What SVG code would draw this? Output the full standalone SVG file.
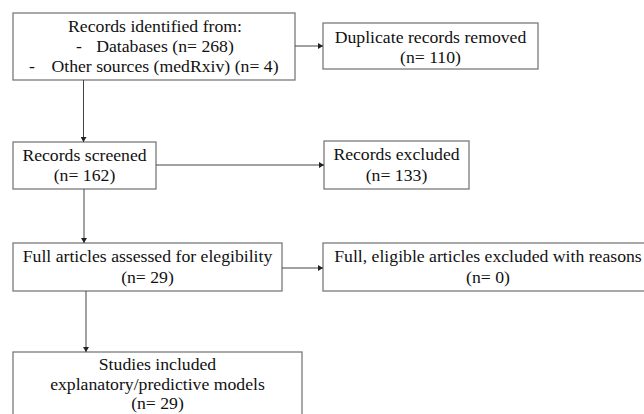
<svg xmlns="http://www.w3.org/2000/svg" width="644" height="414" viewBox="0 0 644 414">
<defs>
<marker id="ah" markerWidth="6" markerHeight="6" refX="5" refY="3" orient="auto" markerUnits="userSpaceOnUse">
<path d="M0,0 L5,3 L0,6 Z" fill="#222"/>
</marker>
<style>
.box{fill:#fff;stroke:#7a7a7a;stroke-width:1.3}
.t{font-family:"Liberation Serif","Times New Roman",serif;font-size:17.7px;fill:#111;text-anchor:middle}
.c{stroke:#444;stroke-width:1;fill:none;marker-end:url(#ah)}
</style>
</defs>
<rect width="644" height="414" fill="#fff"/>
<g id="identified">
<rect class="box" x="13" y="13" width="282" height="67"/>
<text class="t" x="155" y="32">Records identified from:</text>
<text class="t" x="79" y="52">-</text>
<text class="t" x="165" y="52">Databases (n= 268)</text>
<text class="t" x="32" y="72">-</text>
<text class="t" x="165" y="72">Other sources (medRxiv) (n= 4)</text>
</g>
<g id="duplicates">
<rect class="box" x="323" y="23" width="215" height="46"/>
<text class="t" x="430.5" y="43">Duplicate records removed</text>
<text class="t" x="430.5" y="63">(n= 110)</text>
</g>
<g id="screened">
<rect class="box" x="13" y="142" width="143" height="47"/>
<text class="t" x="84.5" y="161">Records screened</text>
<text class="t" x="84.5" y="181">(n= 162)</text>
</g>
<g id="excluded">
<rect class="box" x="324" y="141" width="145" height="48"/>
<text class="t" x="396.5" y="160">Records excluded</text>
<text class="t" x="396.5" y="181">(n= 133)</text>
</g>
<g id="fulltext">
<rect class="box" x="13" y="243" width="269" height="48"/>
<text class="t" x="147.5" y="262">Full articles assessed for elegibility</text>
<text class="t" x="147.5" y="283">(n= 29)</text>
</g>
<g id="fullexcluded">
<rect class="box" x="323" y="243" width="330" height="48"/>
<text class="t" x="488" y="262">Full, eligible articles excluded with reasons</text>
<text class="t" x="488" y="283">(n= 0)</text>
</g>
<g id="included">
<rect class="box" x="13" y="352" width="289" height="80"/>
<text class="t" x="157.5" y="370">Studies included</text>
<text class="t" x="157.5" y="390">explanatory/predictive models</text>
<text class="t" x="157.5" y="409">(n= 29)</text>
</g>
<g id="connectors">
<path class="c" d="M295,46 H323"/>
<path class="c" d="M83.5,80 V142"/>
<path class="c" d="M156,165 H324"/>
<path class="c" d="M84,189 V243"/>
<path class="c" d="M282,268 H323"/>
<path class="c" d="M86,291 V352"/>
</g>
</svg>
